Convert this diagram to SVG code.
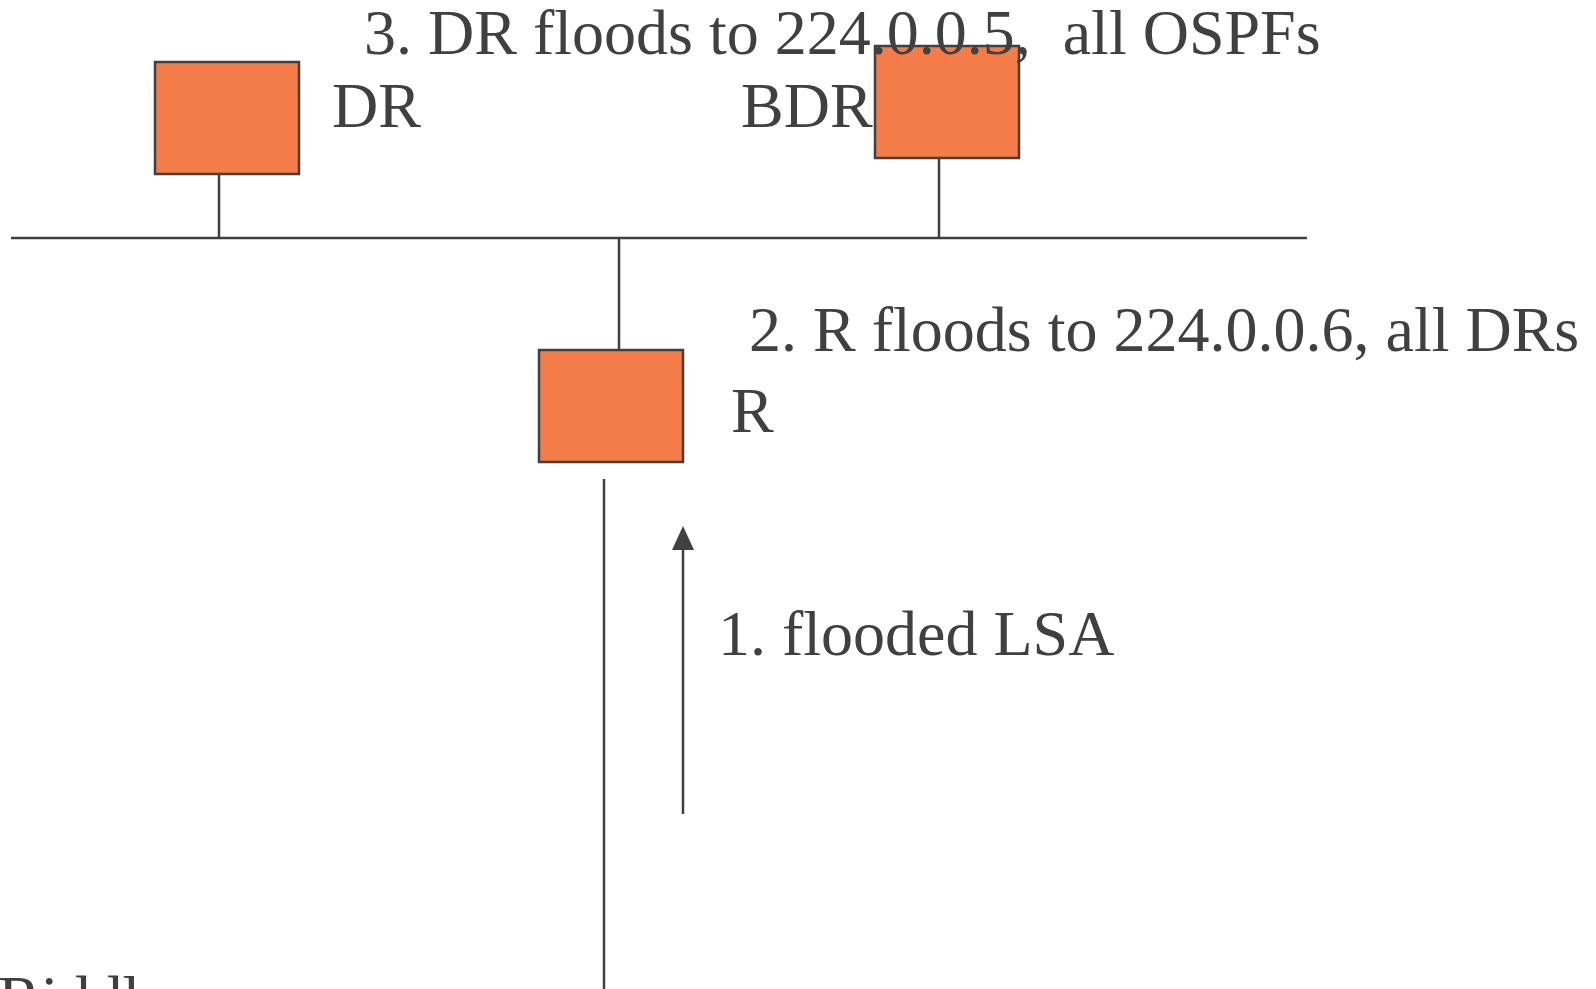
<svg xmlns="http://www.w3.org/2000/svg" width="1596" height="989" viewBox="0 0 1596 989">
  <style>
    .router { fill: #F47C48; stroke: #404040; stroke-width: 2.5; }
    .wire { stroke: #404040; stroke-width: 2.5; fill: none; }
    .label { font-family: "Liberation Serif", "Times New Roman", serif; font-size: 64px; fill: #404040; }
  </style>

  <!-- links: shared segment, drops and the incoming link -->
  <g id="connectors">
    <line class="wire" x1="11" y1="238" x2="1307" y2="238"/>
    <line class="wire" x1="219" y1="174" x2="219" y2="238"/>
    <line class="wire" x1="939" y1="158" x2="939" y2="238"/>
    <line class="wire" x1="619" y1="238" x2="619" y2="350"/>
    <line class="wire" x1="604" y1="479" x2="604" y2="989"/>
    <line class="wire" x1="683" y1="814" x2="683" y2="545"/>
    <path d="M672,550 L683,526 L694,550 Z" fill="#404040"/>
  </g>

  <g id="dr">
    <rect class="router" x="155" y="62" width="144" height="112"/>
    <text class="label" x="332" y="127">DR</text>
  </g>

  <g id="bdr">
    <rect class="router" x="875" y="46" width="144" height="112"/>
    <text class="label" x="741" y="127">BDR</text>
  </g>

  <g id="r">
    <rect class="router" x="539" y="350" width="144" height="112"/>
    <text class="label" x="731" y="432">R</text>
  </g>

  <g id="steps">
    <text class="label" x="364" y="54" xml:space="preserve">3. DR floods to 224.0.0.5,  all OSPFs</text>
    <text class="label" x="749" y="351">2. R floods to 224.0.0.6, all DRs</text>
    <text class="label" x="718" y="655">1. flooded LSA</text>
    <text class="label" x="-2" y="1020">Riddle</text>
  </g>
</svg>
